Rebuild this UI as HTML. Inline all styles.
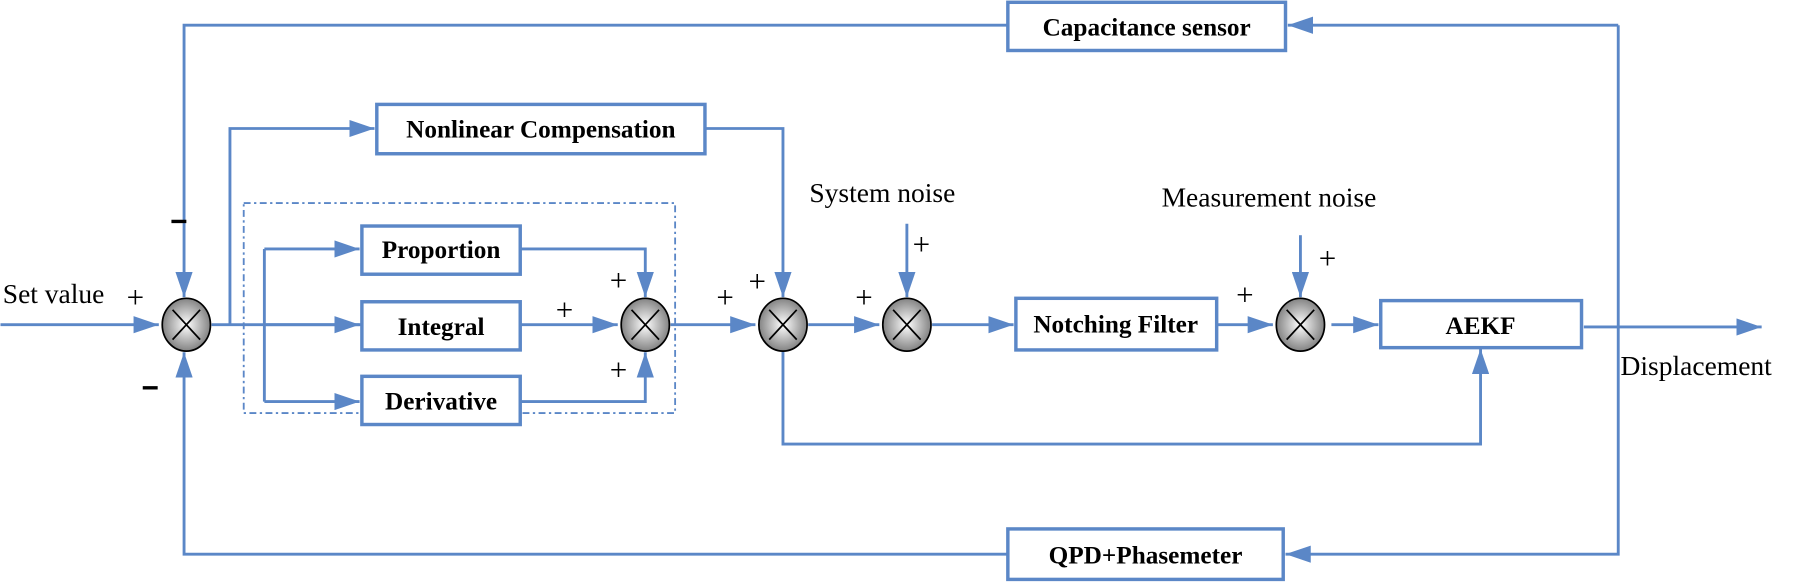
<!DOCTYPE html>
<html><head><meta charset="utf-8"><style>html,body{margin:0;padding:0;background:#fff}svg{display:block}</style></head>
<body>
<svg width="1800" height="584" viewBox="0 0 1568 509" xmlns="http://www.w3.org/2000/svg" font-family="Liberation Serif, serif">
<defs>
<marker id="a" viewBox="0 0 10 10" refX="10" refY="5" markerWidth="22" markerHeight="15" markerUnits="userSpaceOnUse" orient="auto" preserveAspectRatio="none">
<path d="M0,0L10,5L0,10z" fill="#5b87c7"/></marker>
<radialGradient id="g" cx="0.5" cy="0.5" r="0.55"><stop offset="0" stop-color="#fff"/><stop offset="1" stop-color="#777"/></radialGradient>
</defs>
<style>.l{stroke:#5b87c7;stroke-width:2.5;fill:none}.b{stroke:#5b87c7;stroke-width:3;fill:#fff}.t{font-weight:bold;font-size:22px;text-anchor:middle}</style>
<path class="l" d="M878,22H160V259" marker-end="url(#a)"/>
<path class="l" d="M0,283H138" marker-end="url(#a)"/>
<path class="l" d="M184,283H315" />
<path class="l" d="M200,283V112H326" marker-end="url(#a)"/>
<path class="l" d="M614,112H682V259" marker-end="url(#a)"/>
<path class="l" d="M230,217V350"/>
<path class="l" d="M230,217H313" marker-end="url(#a)"/>
<path class="l" d="M230,283H313" marker-end="url(#a)"/>
<path class="l" d="M230,350H313" marker-end="url(#a)"/>
<path class="l" d="M453,217H562V259" marker-end="url(#a)"/>
<path class="l" d="M453,283H538" marker-end="url(#a)"/>
<path class="l" d="M453,350H562V307" marker-end="url(#a)"/>
<path class="l" d="M584,283H658" marker-end="url(#a)"/>
<path class="l" d="M704,283H766" marker-end="url(#a)"/>
<path class="l" d="M790,195V259" marker-end="url(#a)"/>
<path class="l" d="M812,283H883" marker-end="url(#a)"/>
<path class="l" d="M1060,283H1109" marker-end="url(#a)"/>
<path class="l" d="M1133,205V259" marker-end="url(#a)"/>
<path class="l" d="M1160,283H1201" marker-end="url(#a)"/>
<path class="l" d="M1380,285H1535" marker-end="url(#a)"/>
<path class="l" d="M682,305V387H1290V304" marker-end="url(#a)"/>
<path class="l" d="M1410,22V483H1120" marker-end="url(#a)"/>
<path class="l" d="M878,483H160V307" marker-end="url(#a)"/>
<path class="l" d="M1410,22H1122" marker-end="url(#a)"/>
<rect x="212" y="177" width="376" height="183" fill="none" stroke="#5b87c7" stroke-width="1.6" stroke-dasharray="6,3,2,3"/>
<rect class="b" x="878" y="2" width="242" height="42"/><text class="t" x="999" y="31">Capacitance sensor</text>
<rect class="b" x="328" y="91" width="286" height="43"/><text class="t" x="471" y="120">Nonlinear Compensation</text>
<rect class="b" x="315" y="197" width="138" height="42"/><text class="t" x="384" y="225">Proportion</text>
<rect class="b" x="315" y="263" width="138" height="42"/><text class="t" x="384" y="292">Integral</text>
<rect class="b" x="315" y="328" width="138" height="42"/><text class="t" x="384" y="357">Derivative</text>
<rect class="b" x="885" y="260" width="175" height="45"/><text class="t" x="972" y="290">Notching Filter</text>
<rect class="b" x="1203" y="262" width="175" height="41"/><text class="t" x="1290" y="291">AEKF</text>
<rect class="b" x="878" y="461" width="240" height="44"/><text class="t" x="998" y="491">QPD+Phasemeter</text>
<g stroke="#000" stroke-width="1.5">
<ellipse cx="162" cy="283" rx="21" ry="23" fill="url(#g)"/><path d="M150,270L174,296M174,270L150,296"/>
<ellipse cx="562" cy="283" rx="21" ry="23" fill="url(#g)"/><path d="M550,270L574,296M574,270L550,296"/>
<ellipse cx="682" cy="283" rx="21" ry="23" fill="url(#g)"/><path d="M670,270L694,296M694,270L670,296"/>
<ellipse cx="790" cy="283" rx="21" ry="23" fill="url(#g)"/><path d="M778,270L802,296M802,270L778,296"/>
<ellipse cx="1133" cy="283" rx="21" ry="23" fill="url(#g)"/><path d="M1121,270L1145,296M1145,270L1121,296"/>
</g>
<g font-size="24">
<text x="2" y="264">Set value</text>
<text x="705" y="176">System noise</text>
<text x="1012" y="180">Measurement noise</text>
<text x="1412" y="327">Displacement</text>
</g>
<g font-size="27">
<text x="110" y="268">+</text>
<text x="531" y="253">+</text><text x="484" y="279">+</text><text x="531" y="331">+</text>
<text x="624" y="268">+</text><text x="652" y="254">+</text>
<text x="745" y="268">+</text><text x="795" y="222">+</text>
<text x="1077" y="266">+</text><text x="1149" y="234">+</text>
</g>
<g stroke="#000" stroke-width="3"><path d="M149,193H162M124,338H137"/></g>
</svg>
</body></html>
